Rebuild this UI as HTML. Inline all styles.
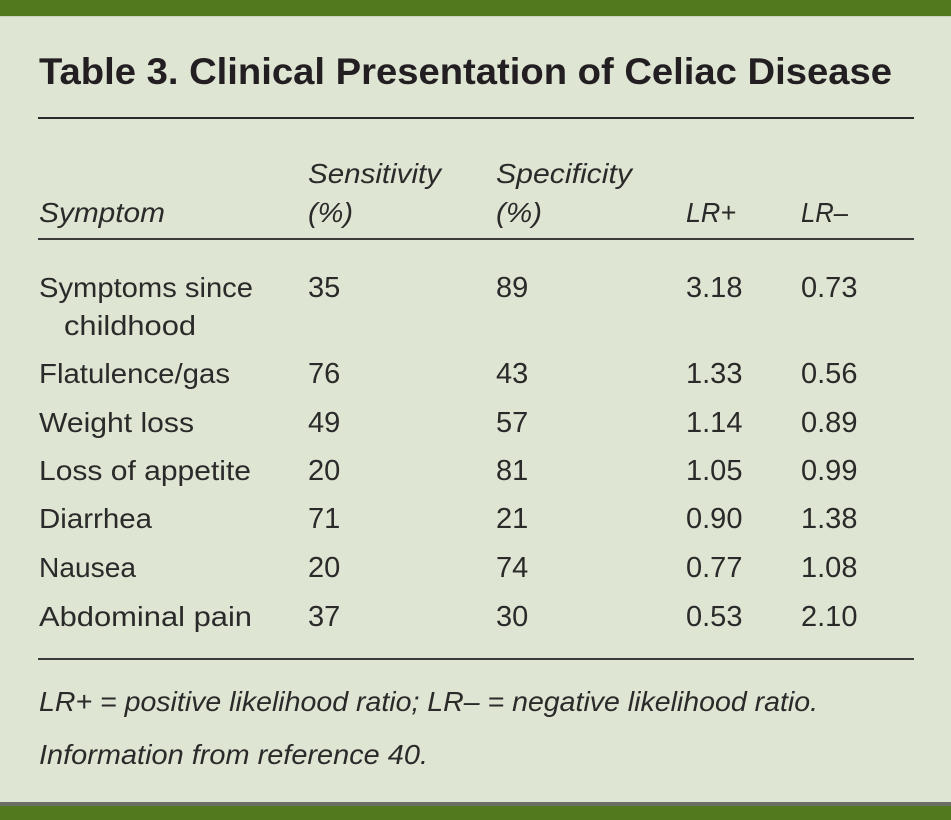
<!DOCTYPE html>
<html><head><meta charset="utf-8"><style>
html,body{margin:0;padding:0;background:#dee5d2;}
svg{display:block;}
text{font-family:"Liberation Sans",sans-serif;fill:#2b2a2a;}
.b{font-size:28px;}
.n{font-size:29px;}
.i{font-size:28px;font-style:italic;}
.t{font-size:37px;font-weight:bold;fill:#221e21;}
</style></head><body>
<svg width="951" height="820" viewBox="0 0 951 820" xmlns="http://www.w3.org/2000/svg">
<rect x="0" y="0" width="951" height="820" fill="#dee5d2"/>
<rect x="0" y="0" width="951" height="16" fill="#52791d"/>
<rect x="0" y="16" width="951" height="1" fill="#c9d3bd"/>
<rect x="0" y="802" width="951" height="4" fill="#6b6e66"/>
<rect x="0" y="806" width="951" height="14" fill="#52791d"/>

<text class="t" x="39" y="84" textLength="853" lengthAdjust="spacingAndGlyphs">Table 3. Clinical Presentation of Celiac Disease</text>
<rect x="38" y="117" width="876" height="2" fill="#2a2a2a"/>

<text class="i" x="308" y="183" textLength="133" lengthAdjust="spacingAndGlyphs">Sensitivity</text>
<text class="i" x="496" y="183" textLength="136" lengthAdjust="spacingAndGlyphs">Specificity</text>
<text class="i" x="39" y="222" textLength="126" lengthAdjust="spacingAndGlyphs">Symptom</text>
<text class="i" x="308" y="222" textLength="45" lengthAdjust="spacingAndGlyphs">(%)</text>
<text class="i" x="496" y="222" textLength="46" lengthAdjust="spacingAndGlyphs">(%)</text>
<text class="i" x="686" y="222" textLength="50" lengthAdjust="spacingAndGlyphs">LR+</text>
<text class="i" x="801" y="222" textLength="47" lengthAdjust="spacingAndGlyphs">LR–</text>
<rect x="38" y="238" width="876" height="2" fill="#3a3a3a"/>

<text class="b" x="39" y="297" textLength="214" lengthAdjust="spacingAndGlyphs">Symptoms since</text>
<text class="b" x="64" y="335" textLength="132" lengthAdjust="spacingAndGlyphs">childhood</text>
<text class="n" x="308" y="297">35</text>
<text class="n" x="496" y="297">89</text>
<text class="n" x="686" y="297">3.18</text>
<text class="n" x="801" y="297">0.73</text>

<text class="b" x="39" y="383" textLength="191" lengthAdjust="spacingAndGlyphs">Flatulence/gas</text>
<text class="n" x="308" y="383">76</text>
<text class="n" x="496" y="383">43</text>
<text class="n" x="686" y="383">1.33</text>
<text class="n" x="801" y="383">0.56</text>

<text class="b" x="39" y="432" textLength="155" lengthAdjust="spacingAndGlyphs">Weight loss</text>
<text class="n" x="308" y="432">49</text>
<text class="n" x="496" y="432">57</text>
<text class="n" x="686" y="432">1.14</text>
<text class="n" x="801" y="432">0.89</text>

<text class="b" x="39" y="480" textLength="212" lengthAdjust="spacingAndGlyphs">Loss of appetite</text>
<text class="n" x="308" y="480">20</text>
<text class="n" x="496" y="480">81</text>
<text class="n" x="686" y="480">1.05</text>
<text class="n" x="801" y="480">0.99</text>

<text class="b" x="39" y="528" textLength="113" lengthAdjust="spacingAndGlyphs">Diarrhea</text>
<text class="n" x="308" y="528">71</text>
<text class="n" x="496" y="528">21</text>
<text class="n" x="686" y="528">0.90</text>
<text class="n" x="801" y="528">1.38</text>

<text class="b" x="39" y="577" textLength="97" lengthAdjust="spacingAndGlyphs">Nausea</text>
<text class="n" x="308" y="577">20</text>
<text class="n" x="496" y="577">74</text>
<text class="n" x="686" y="577">0.77</text>
<text class="n" x="801" y="577">1.08</text>

<text class="b" x="39" y="626" textLength="213" lengthAdjust="spacingAndGlyphs">Abdominal pain</text>
<text class="n" x="308" y="626">37</text>
<text class="n" x="496" y="626">30</text>
<text class="n" x="686" y="626">0.53</text>
<text class="n" x="801" y="626">2.10</text>

<rect x="38" y="658" width="876" height="2" fill="#3a3a3a"/>

<text class="i" x="39" y="711" textLength="779" lengthAdjust="spacingAndGlyphs">LR+ = positive likelihood ratio; LR– = negative likelihood ratio.</text>
<text class="i" x="39" y="764" textLength="389" lengthAdjust="spacingAndGlyphs">Information from reference 40.</text>
</svg>
</body></html>
